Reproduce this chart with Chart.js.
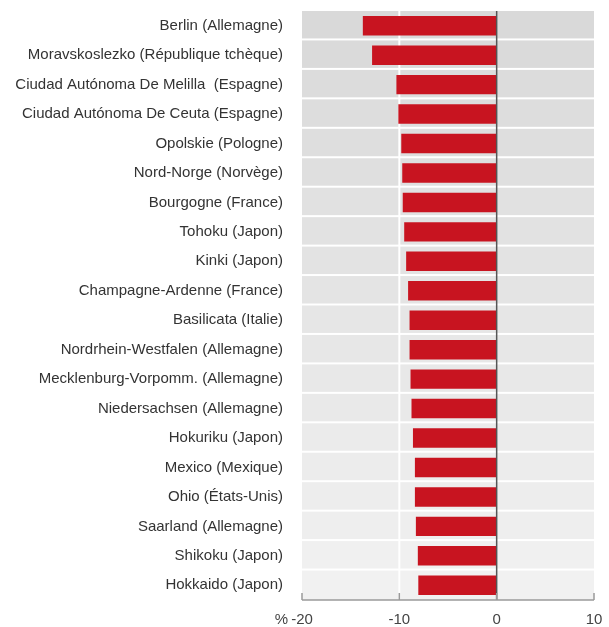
<!DOCTYPE html>
<html>
<head>
<meta charset="utf-8">
<script src="https://cdn.jsdelivr.net/npm/chart.js@4.4.0/dist/chart.umd.min.js"></script>
<style>
  body { margin: 0; background: #fff; }
  #wrap { width: 609px; height: 627px; }
</style>
</head>
<body>
<div id="wrap"><canvas id="chart" width="609" height="627"></canvas></div>
<script>
// Données (variation en %)
const regions = [
  "Berlin (Allemagne)",
  "Moravskoslezko (République tchèque)",
  "Ciudad Autónoma De Melilla  (Espagne)",
  "Ciudad Autónoma De Ceuta (Espagne)",
  "Opolskie (Pologne)",
  "Nord-Norge (Norvège)",
  "Bourgogne (France)",
  "Tohoku (Japon)",
  "Kinki (Japon)",
  "Champagne-Ardenne (France)",
  "Basilicata (Italie)",
  "Nordrhein-Westfalen (Allemagne)",
  "Mecklenburg-Vorpomm. (Allemagne)",
  "Niedersachsen (Allemagne)",
  "Hokuriku (Japon)",
  "Mexico (Mexique)",
  "Ohio (États-Unis)",
  "Saarland (Allemagne)",
  "Shikoku (Japon)",
  "Hokkaido (Japon)"
];
const values = [-13.75, -12.8, -10.3, -10.1, -9.8, -9.7, -9.65, -9.5, -9.3, -9.1,
                -8.95, -8.95, -8.85, -8.75, -8.6, -8.4, -8.4, -8.3, -8.1, -8.05];
const xTicks = [-20, -10, 0, 10];

const FONT = "'Liberation Sans', Arial, sans-serif";

// bandes de fond, ligne du zéro, axe du bas
const decor = {
  id: "decor",
  beforeDatasetsDraw(chart) {
    const { ctx, chartArea: a, scales: { x, y } } = chart;
    const n = regions.length;
    const h = (a.bottom - a.top) / n;
    ctx.save();
    for (let i = 0; i < n; i++) {
      const t = i / (n - 1);
      const c = Math.round(217 + (241 - 217) * t);
      ctx.fillStyle = `rgb(${c},${c},${c})`;
      const top = y.getPixelForValue(i) - h / 2;
      const hh = i === n - 1 ? a.bottom - top : h - 2;
      ctx.fillRect(a.left, top, a.right - a.left, hh);
    }
    ctx.strokeStyle = "#ffffff";
    ctx.lineWidth = 2;
    const gx = x.getPixelForValue(-10);
    ctx.beginPath();
    ctx.moveTo(gx, a.top);
    ctx.lineTo(gx, a.bottom);
    ctx.stroke();
    ctx.restore();
  },
  afterDatasetsDraw(chart) {
    const { ctx, chartArea: a, scales: { x } } = chart;
    ctx.save();
    // ligne du zéro
    const zx = x.getPixelForValue(0);
    ctx.strokeStyle = "#555555";
    ctx.lineWidth = 1.5;
    ctx.beginPath();
    ctx.moveTo(zx, a.top);
    ctx.lineTo(zx, a.bottom);
    ctx.stroke();
    // axe horizontal + graduations
    ctx.strokeStyle = "#9a9a9a";
    ctx.lineWidth = 1.5;
    ctx.beginPath();
    ctx.moveTo(x.getPixelForValue(xTicks[0]), a.bottom);
    ctx.lineTo(x.getPixelForValue(xTicks[xTicks.length - 1]), a.bottom);
    xTicks.forEach(v => {
      const px = x.getPixelForValue(v);
      ctx.moveTo(px, a.bottom);
      ctx.lineTo(px, a.bottom - 7);
    });
    ctx.stroke();
    // symbole % devant le premier libellé
    ctx.font = "15px " + FONT;
    ctx.fillStyle = "#444444";
    ctx.textAlign = "right";
    ctx.textBaseline = "middle";
    const w = ctx.measureText(String(xTicks[0])).width;
    ctx.fillText("%", x.getPixelForValue(xTicks[0]) - w / 2 - 3, a.bottom + 20);
    ctx.restore();
  }
};

new Chart(document.getElementById("chart"), {
  type: "bar",
  data: {
    labels: regions,
    datasets: [{
      data: values,
      backgroundColor: "#c81420",
      borderWidth: 0,
      barPercentage: 0.66,
      categoryPercentage: 1
    }]
  },
  options: {
    indexAxis: "y",
    responsive: false,
    animation: false,
    layout: { padding: { top: 11, right: 15, left: 0, bottom: 0 } },
    plugins: { legend: { display: false }, tooltip: { enabled: false } },
    scales: {
      x: {
        min: -20,
        max: 10,
        afterBuildTicks(scale) {
          scale.ticks = xTicks.map(v => ({ value: v }));
        },
        afterFit(scale) {
          scale.height = 27;
          scale.paddingLeft = 0;
          scale.paddingRight = 0;
        },
        grid: { display: false, drawTicks: false },
        border: { display: false },
        ticks: {
          padding: 11,
          color: "#444444",
          font: { family: FONT, size: 15 },
          maxRotation: 0,
          callback: v => String(v)
        }
      },
      y: {
        afterFit(scale) {
          scale.width = 302;
          scale.paddingTop = 0;
          scale.paddingBottom = 0;
        },
        grid: { display: false, drawTicks: false },
        border: { display: false },
        ticks: {
          padding: 19,
          color: "#333333",
          autoSkip: false,
          font: { family: FONT, size: 15 }
        }
      }
    }
  },
  plugins: [decor]
});
</script>
</body>
</html>
